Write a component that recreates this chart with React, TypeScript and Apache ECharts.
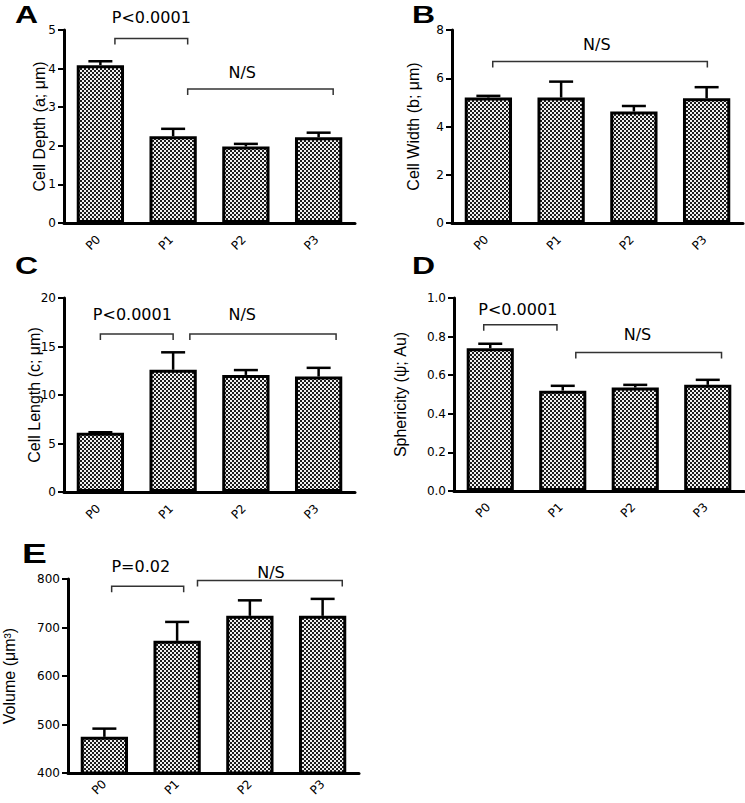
import React, { useEffect, useRef } from "react";
import * as echarts from "echarts";

const categories = ["P0", "P1", "P2", "P3"];

const depthMean = [4.09, 2.25, 1.98, 2.22];
const depthErr = [0.1, 0.19, 0.07, 0.12];
const widthMean = [5.2, 5.2, 4.62, 5.17];
const widthErr = [0.07, 0.66, 0.23, 0.46];
const lengthMean = [6.1, 12.6, 12.07, 11.9];
const lengthErr = [0.06, 1.8, 0.5, 0.9];
const sphMean = [0.74, 0.52, 0.536, 0.55];
const sphErr = [0.023, 0.025, 0.014, 0.026];
const volMean = [474.5, 672.5, 724, 724];
const volErr = [17, 39, 32, 35];

const bracketsA = [
  { from: 0.2, to: 1.2, level: 4.78, text: "P<0.0001", textAt: 0.7, textLevel: 5.33 },
  { from: 1.2, to: 3.2, level: 3.47, text: "N/S", textAt: 1.95, textLevel: 3.89 },
];
const bracketsB = [
  { from: 0.06, to: 3.01, level: 6.69, text: "N/S", textAt: 1.49, textLevel: 7.39 },
];
const bracketsC = [
  { from: 0.0, to: 1.0, level: 16.3, text: "P<0.0001", textAt: 0.44, textLevel: 18.27 },
  { from: 1.23, to: 3.24, level: 16.3, text: "N/S", textAt: 1.95, textLevel: 18.27 },
];
const bracketsD = [
  { from: -0.09, to: 0.92, level: 0.861, text: "P<0.0001", textAt: 0.38, textLevel: 0.939 },
  { from: 1.18, to: 3.19, level: 0.718, text: "N/S", textAt: 2.03, textLevel: 0.81 },
];
const bracketsE = [
  { from: 0.1, to: 1.09, level: 784.8, text: "P=0.02", textAt: 0.5, textLevel: 826 },
  { from: 1.28, to: 3.27, level: 796.7, text: "N/S", textAt: 2.29, textLevel: 813.8 },
];

const panels = [
  { letter: "A", mean: depthMean, err: depthErr, min: 0, max: 5, interval: 1, decimals: 0, name: "Cell Depth (a; μm)", brackets: bracketsA },
  { letter: "B", mean: widthMean, err: widthErr, min: 0, max: 8, interval: 2, decimals: 0, name: "Cell Width (b; μm)", brackets: bracketsB },
  { letter: "C", mean: lengthMean, err: lengthErr, min: 0, max: 20, interval: 5, decimals: 0, name: "Cell Length (c; μm)", brackets: bracketsC },
  { letter: "D", mean: sphMean, err: sphErr, min: 0, max: 1, interval: 0.2, decimals: 1, name: "Sphericity (ψ; Au)", brackets: bracketsD },
  { letter: "E", mean: volMean, err: volErr, min: 400, max: 800, interval: 100, decimals: 0, name: "Volume (μm³)", brackets: bracketsE },
];

// layout (pixels)
const layouts = [
  { left: 64, top: 30, width: 291, height: 193, nameGap: 17, lx: 15, ly: 15, lsize: 24, labDx: -2, labDy: 14.5 },
  { left: 452, top: 30, width: 291, height: 193, nameGap: 31, lx: 412, ly: 15, lsize: 24, labDx: -2, labDy: 14.5 },
  { left: 64, top: 298, width: 291, height: 194, nameGap: 22, lx: 15, ly: 266, lsize: 24, labDx: -2, labDy: 14.5 },
  { left: 454, top: 298, width: 290, height: 193, nameGap: 46, lx: 412, ly: 266, lsize: 24, labDx: -2, labDy: 14 },
  { left: 68, top: 579, width: 291, height: 194, nameGap: 51, lx: 22, ly: 553, lsize: 28, labDx: 0, labDy: 9 },
];

const TICK_FONT = "DejaVu Sans";
const NAME_FONT = "Liberation Sans";

function makePattern(): string {
  const c = document.createElement("canvas");
  c.width = 4;
  c.height = 4;
  const ctx = c.getContext("2d")!;
  ctx.fillStyle = "#f0f0f0";
  ctx.fillRect(0, 0, 4, 4);
  ctx.fillStyle = "#1c1c1c";
  ctx.fillRect(0, 0, 2, 2);
  ctx.fillRect(2, 2, 2, 2);
  return c.toDataURL();
}

export default function App() {
  const ref = useRef<HTMLDivElement>(null);
  useEffect(() => {
    if (!ref.current) return;
    const chart = echarts.init(ref.current, null, { renderer: "svg" });
    const pattern = { image: makePattern(), repeat: "repeat", imageWidth: 4, imageHeight: 4 };

    const grid: any[] = [];
    const xAxis: any[] = [];
    const yAxis: any[] = [];
    const series: any[] = [];
    const graphic: any[] = [];

    panels.forEach((p, k) => {
      const L = layouts[k];
      grid.push({ left: L.left, top: L.top, width: L.width, height: L.height, outerBoundsMode: "none" });
      xAxis.push({
        type: "category",
        gridIndex: k,
        data: categories,
        boundaryGap: true,
        axisLine: { lineStyle: { color: "#000", width: 3 } },
        axisTick: { alignWithLabel: true, length: 6, lineStyle: { color: "#000", width: 2.5 } },
        axisLabel: { show: false },
        splitLine: { show: false },
      });
      yAxis.push({
        type: "value",
        gridIndex: k,
        min: p.min,
        max: p.max,
        interval: p.interval,
        name: p.name,
        nameLocation: "middle",
        nameGap: L.nameGap,
        nameMoveOverlap: false,
        nameTextStyle: { fontSize: 16, fontFamily: NAME_FONT, color: "#000" },
        axisLine: { show: true, lineStyle: { color: "#000", width: 3 } },
        axisTick: { show: true, length: 6, lineStyle: { color: "#000", width: 2 } },
        axisLabel: {
          margin: 8,
          fontSize: 12,
          fontFamily: TICK_FONT,
          color: "#000",
          formatter: (v: number) => v.toFixed(p.decimals),
        },
        splitLine: { show: false },
      });
      series.push({
        type: "bar",
        xAxisIndex: k,
        yAxisIndex: k,
        data: p.mean,
        barWidth: "65%",
        itemStyle: { color: pattern, borderColor: "#000", borderWidth: 3 },
        silent: true,
        z: 2,
      });
      // error bars (upper whisker)
      series.push({
        type: "custom",
        xAxisIndex: k,
        yAxisIndex: k,
        clip: false,
        silent: true,
        z: 3,
        encode: { x: 0, y: 1 },
        data: p.mean.map((m, i) => [i, m, p.err[i]]),
        renderItem: (params: any, api: any) => {
          const i = api.value(0);
          const m = api.value(1);
          const e = api.value(2);
          const a = api.coord([i, m]);
          const b = api.coord([i, m + e]);
          return {
            type: "group",
            children: [
              { type: "line", shape: { x1: a[0], y1: a[1], x2: b[0], y2: b[1] }, style: { stroke: "#000", lineWidth: 2.5 } },
              { type: "line", shape: { x1: b[0] - 12, y1: b[1], x2: b[0] + 12, y2: b[1] }, style: { stroke: "#000", lineWidth: 2.5 } },
            ],
          };
        },
      });
      // rotated category labels
      series.push({
        type: "custom",
        xAxisIndex: k,
        yAxisIndex: k,
        clip: false,
        silent: true,
        z: 3,
        encode: { x: 0, y: 1 },
        data: categories.map((c, i) => [i, p.min]),
        renderItem: (params: any, api: any) => {
          const pt = api.coord([api.value(0), api.value(1)]);
          return {
            type: "text",
            x: pt[0] + L.labDx,
            y: pt[1] + L.labDy,
            rotation: Math.PI / 4,
            style: {
              text: categories[params.dataIndex],
              textAlign: "right",
              textVerticalAlign: "middle",
              fontSize: 12,
              fontFamily: TICK_FONT,
              fill: "#000",
            },
          };
        },
      });
      // significance brackets
      series.push({
        type: "custom",
        xAxisIndex: k,
        yAxisIndex: k,
        clip: false,
        silent: true,
        z: 4,
        encode: { x: 0, y: 1 },
        data: p.brackets.map((b) => [0, b.level]),
        renderItem: (params: any, api: any) => {
          const b = p.brackets[params.dataIndex];
          const band = api.size([1, 0])[0];
          const c0 = api.coord([0, b.level]);
          const y = c0[1];
          const xa = c0[0] + b.from * band;
          const xb = c0[0] + b.to * band;
          const ty = api.coord([0, b.textLevel])[1];
          const drop = 6;
          return {
            type: "group",
            children: [
              {
                type: "polyline",
                shape: { points: [[xa, y + drop], [xa, y], [xb, y], [xb, y + drop]] },
                style: { stroke: "#333", lineWidth: 1.5, fill: "none" },
              },
              {
                type: "text",
                x: c0[0] + b.textAt * band,
                y: ty,
                style: {
                  text: b.text,
                  textAlign: "center",
                  textVerticalAlign: "middle",
                  fontSize: 16,
                  fontFamily: TICK_FONT,
                  fill: "#000",
                },
              },
            ],
          };
        },
      });
      graphic.push({
        type: "text",
        x: L.lx,
        y: L.ly,
        scaleX: 1.33,
        style: {
          text: p.letter,
          fontSize: L.lsize,
          fontWeight: "bold",
          fontFamily: NAME_FONT,
          fill: "#000",
          textAlign: "left",
          textVerticalAlign: "middle",
        },
      });
    });

    chart.setOption({
      animation: false,
      backgroundColor: "#fff",
      grid,
      xAxis,
      yAxis,
      series,
      graphic,
    });
    return () => chart.dispose();
  }, []);
  return (
    <div
      ref={ref}
      style={{ position: "absolute", left: 0, top: 0, width: 745, height: 803 }}
    />
  );
}
